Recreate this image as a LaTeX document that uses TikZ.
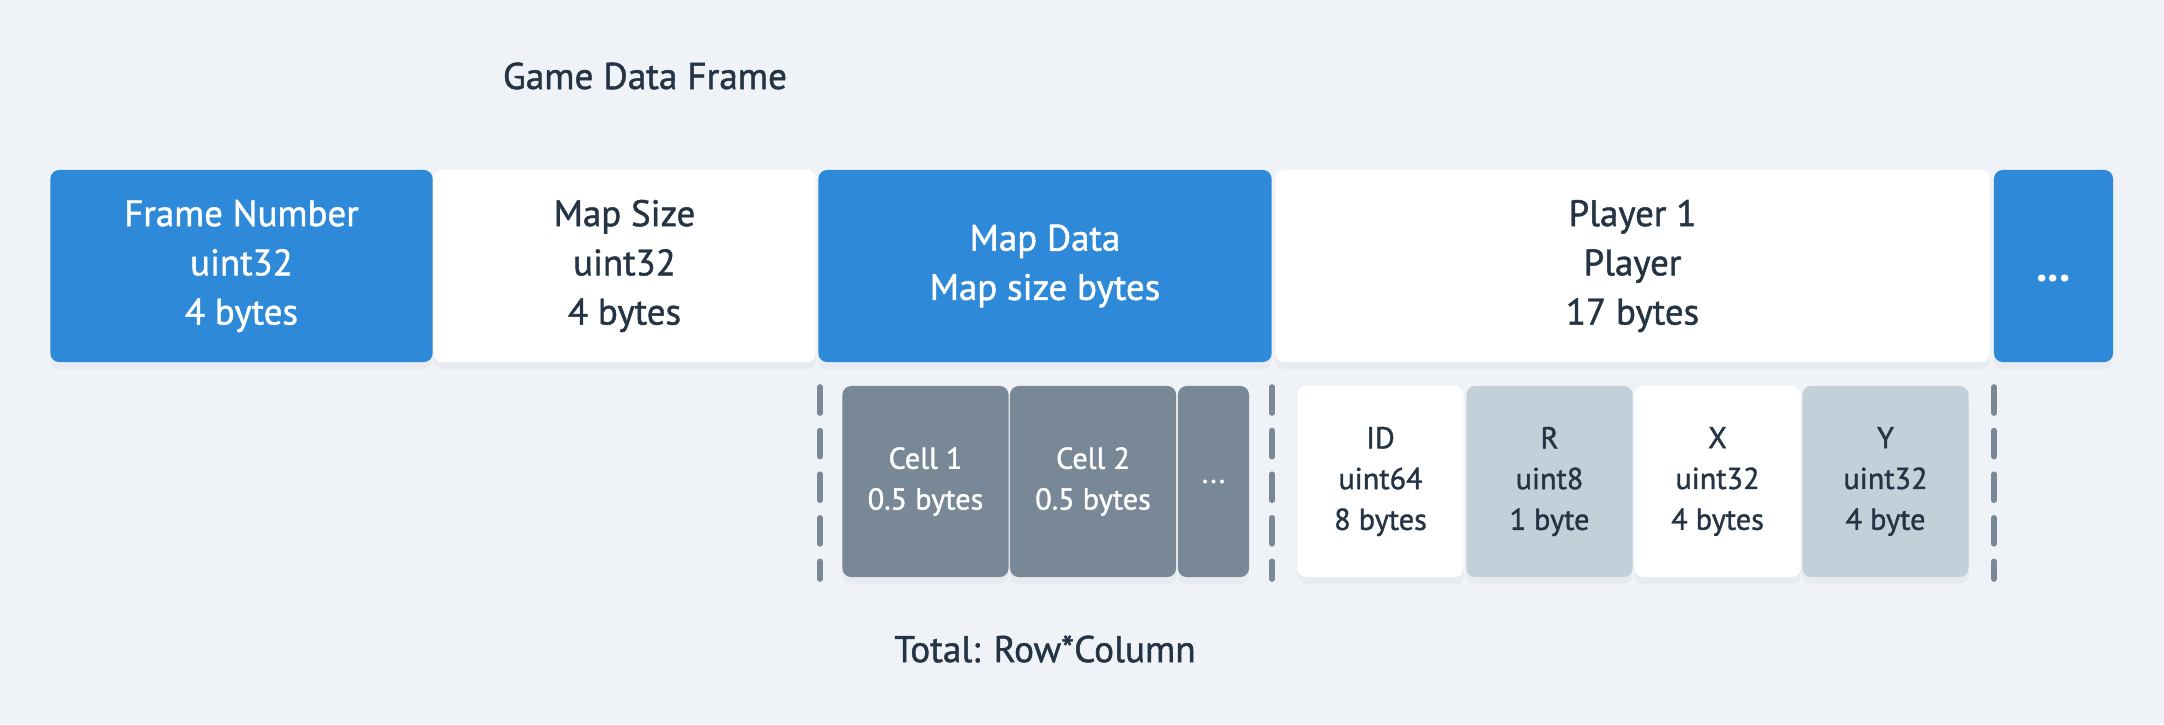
\documentclass[tikz,border=0pt]{standalone}
\usepackage{fontspec}
\setmainfont{PT Sans}[BoldFont=PT Sans, BoldFeatures={FakeBold=1.2}]
\newfontfamily\dotsfont{PT Sans}[UprightFont=* Bold]
\usetikzlibrary{shadows}

\definecolor{bgcol}{RGB}{239,243,247}
\definecolor{bluecol}{RGB}{46,138,216}
\definecolor{cellcol}{RGB}{120,136,151}
\definecolor{lightcol}{RGB}{195,207,217}
\definecolor{textcol}{RGB}{36,52,68}

\tikzset{
  field/.style={rounded corners=2.5pt, inner sep=0pt, align=center,
    minimum height=1.92cm, text=textcol,
    drop shadow={opacity=0.06, shadow xshift=0pt, shadow yshift=-2pt},
    font=\fontsize{10.5}{14}\selectfont\bfseries},
  bluefield/.style={field, fill=bluecol, text=white},
  whitefield/.style={field, fill=white},
  sub/.style={rounded corners=2.5pt, inner sep=0pt, align=center,
    minimum width=1.66cm, minimum height=1.91cm, text=textcol,
    drop shadow={opacity=0.06, shadow xshift=0pt, shadow yshift=-2pt},
    font=\fontsize{8.6}{11.6}\selectfont\bfseries},
  cellbox/.style={sub, fill=cellcol, text=white},
  lightbox/.style={sub, fill=lightcol},
  whitebox/.style={sub, fill=white},
  divider/.style={line width=1.6pt, cellcol, line cap=round,
    dash pattern=on 7.4pt off 5pt},
  caption/.style={text=textcol, font=\fontsize{10.6}{13}\selectfont\bfseries}
}

\begin{document}
\begin{tikzpicture}[x=0.01cm, y=-0.01cm]

        % Background
        \fill[bgcol] (0,0) rectangle (2164,724);

        % Title
        \node[caption] (title) at (645,76) {Game Data Frame};

        % Game data frame fields
        \node[bluefield, minimum width=3.82cm] (fnum) at (241.5,266) {Frame Number\\uint32\\4 bytes};
        \node[whitefield, minimum width=3.82cm] (msize) at (624.5,266) {Map Size\\uint32\\4 bytes};
        \node[bluefield, minimum width=4.53cm] (mdata) at (1045,266) {Map Data\\Map size bytes};
        \node[whitefield, minimum width=7.14cm] (player) at (1632.5,266) {Player 1\\Player\\17 bytes};
        \node[bluefield, minimum width=1.19cm,
            label={[text=white, font=\fontsize{13}{14}\dotsfont, yshift=-0.12cm]center:...}] (more) at (2053.5,266) {};

        % Dividers
        \foreach \x in {820,1272,1994}
            \draw[divider] (\x,387) -- (\x,579);

        % Map cells
        \node[cellbox] (cell1) at (925.5,481.5) {Cell 1\\0.5 bytes};
        \node[cellbox] (cell2) at (1093,481.5) {Cell 2\\0.5 bytes};
        \node[cellbox, minimum width=0.71cm] (cellmore) at (1213.5,481.5) {...};

        % Player fields
        \node[whitebox] (pid) at (1380.5,481.5) {ID\\uint64\\8 bytes};
        \node[lightbox] (pr) at (1549.5,481.5) {R\\uint8\\1 byte};
        \node[whitebox] (px) at (1717.5,481.5) {X\\uint32\\4 bytes};
        \node[lightbox] (py) at (1885.5,481.5) {Y\\uint32\\4 byte};

        % Total
        \node[caption] (total) at (1045,649) {Total: Row*Column};

    \end{tikzpicture}
\end{document}
